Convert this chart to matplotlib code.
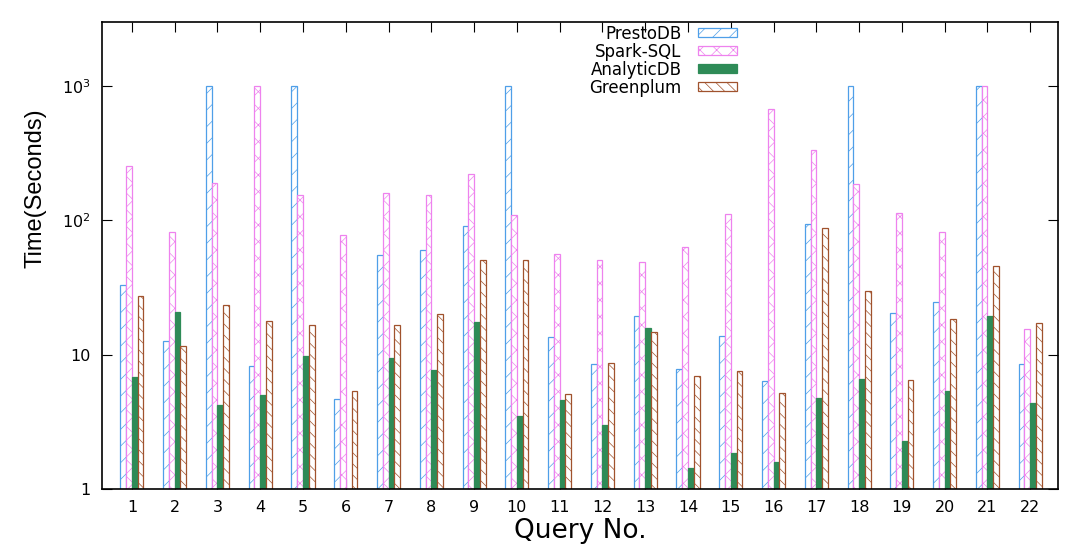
import numpy as np
import matplotlib
matplotlib.use('Agg')
from matplotlib import pyplot as plt

plt.rcParams['font.family'] = ['DejaVu Sans']
plt.rcParams['hatch.linewidth'] = 0.5

queries = np.arange(1, 23)
# times in seconds (1000 = timeout cap)
presto = [33, 12.7, 1000, 8.2, 1000, 4.7, 55, 60, 90, 1000, 13.6,
          8.5, 19.5, 7.8, 13.7, 6.4, 94, 1000, 20.5, 24.7, 1000, 8.5]
spark = [254, 82, 191, 1000, 154, 78, 161, 155, 222, 110, 56,
         51, 49, 63, 111, 670, 335, 186, 114, 82, 1000, 15.4]
analytic = [6.8, 20.8, 4.2, 5.0, 9.8, np.nan, 9.4, 7.7, 17.4, 3.5, 4.6,
            3.0, 15.9, 1.43, 1.86, 1.59, 4.75, 6.6, 2.28, 5.36, 19.3, 4.4]
greenplum = [27.4, 11.7, 23.5, 17.9, 16.6, 5.4, 16.5, 20.1, 51, 50.6, 5.1,
             8.7, 14.8, 6.9, 7.5, 5.2, 87, 29.7, 6.5, 18.5, 45.9, 17.2]

names = ['PrestoDB', 'Spark-SQL', 'AnalyticDB', 'Greenplum']
series = [presto, spark, analytic, greenplum]
styles = [dict(facecolor='white', edgecolor='#4f9fe8', hatch='//'),
          dict(facecolor='white', edgecolor='#ee82ee', hatch='xx'),
          dict(facecolor='#2e8b57', edgecolor='#2e8b57', hatch=None),
          dict(facecolor='white', edgecolor='#a0522d', hatch='\\\\\\')]

fig = plt.figure(figsize=(10.8, 5.47), dpi=100)
ax = fig.add_axes([0.0944, 0.106, 0.8852, 0.854])
ax.set_axisbelow(True)

w = 0.135
for i, (name, vals, st) in enumerate(zip(names, series, styles)):
    ax.bar(queries + (i - 1.5) * w, vals, w, label=name,
           linewidth=0.9, **st)

ax.set_yscale('log')
ax.set_ylim(1, 3000)
ax.set_xlim(0.3, 22.65)
ax.set_yticks([1, 10, 100, 1000])
ax.set_yticklabels(['1', '10', r'10$^2$', r'10$^3$'])
ax.yaxis.set_minor_locator(matplotlib.ticker.NullLocator())
ax.set_xticks(queries)
ax.tick_params(direction='in', top=True, right=True, length=7, width=0.8,
               labelsize=11.5, pad=8)
for s in ax.spines.values():
    s.set_linewidth(1.2)

ax.set_ylabel('Time(Seconds)', fontsize=17, family='Liberation Sans')
ax.yaxis.set_label_coords(-0.0575, 0.645)
ax.set_xlabel('Query No.', fontsize=19, labelpad=2)

ax.legend(loc='upper right', bbox_to_anchor=(0.675, 1.015), frameon=False,
          markerfirst=False, fontsize=12, handlelength=2.35,
          handleheight=0.45, labelspacing=0.0, borderpad=0.1,
          handletextpad=1.0)

fig.savefig('out.png', dpi=100)
